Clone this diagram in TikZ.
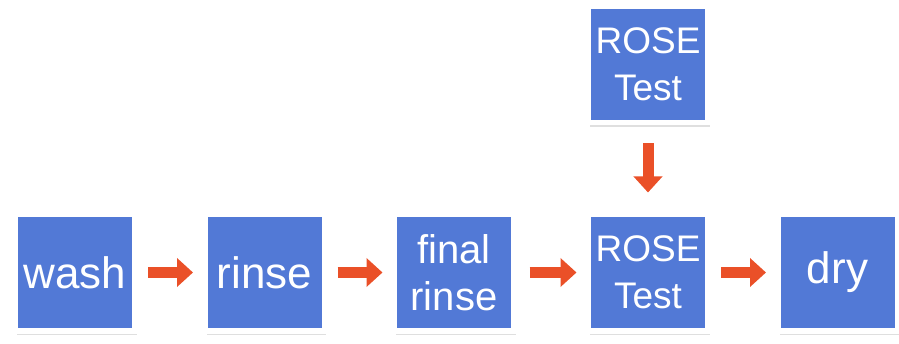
\documentclass[tikz,border=0pt]{standalone}
\usepackage{fontspec}
\setmainfont{Liberation Sans}
\usetikzlibrary{positioning,arrows.meta,shadows}
\definecolor{boxblue}{RGB}{82,121,214}
\definecolor{flowred}{RGB}{234,80,40}
\begin{document}
\begin{tikzpicture}[x=1pt, y=1pt,
	stepbox/.style={draw=white, line width=5.5pt, fill=boxblue, minimum width=119.5pt, minimum height=116.5pt,
		inner sep=0pt, text=white, align=center, font=\fontsize{44}{47}\selectfont,
		drop shadow={shadow xshift=2pt, shadow yshift=-4.5pt, opacity=.25, fill=gray}},
	testbox/.style={stepbox, font=\fontsize{37}{47}\selectfont},
	flow/.style={-{Triangle[width=28pt, length=16pt]}, line width=11pt, flowred}]
	\useasboundingbox (0,0) rectangle (899,343);
	    \node[stepbox] (wash) at (75,70.5) {wash};
	    \node[stepbox, right=64.5pt of wash] (rinse) {rinse};
	    \node[stepbox, font=\fontsize{40}{47}\selectfont, right=64.5pt of rinse] (final) {final\\rinse};
	    \node[testbox, right=69pt of final] (rose) {ROSE\\Test};
	    \node[stepbox, right=64.5pt of rose] (dry) {dry};
	    \node[testbox, above=86pt of rose] (rosetop) {ROSE\\Test};
	
		\path 
		(wash) edge[flow, shorten <=10.5pt, shorten >=9pt] (rinse)
		(rinse) edge[flow, shorten <=10.5pt, shorten >=9pt] (final)
		(final) edge[flow, shorten <=13pt, shorten >=9pt] (rose)
		(rose) edge[flow, shorten <=10.5pt, shorten >=9pt] (dry)
		(rosetop) edge[flow, shorten <=18pt, shorten >=19pt] (rose)
		;
	\end{tikzpicture}
\end{document}
